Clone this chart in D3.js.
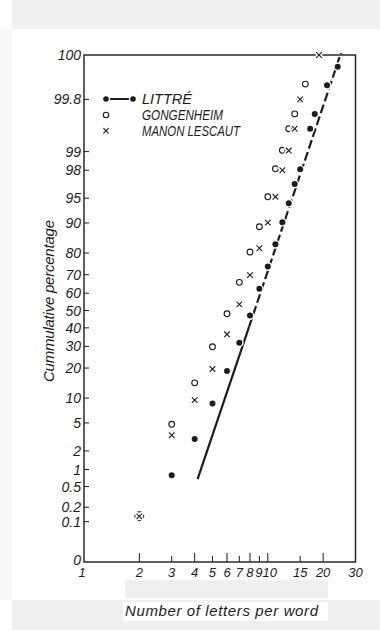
<!DOCTYPE html>
<html><head><meta charset="utf-8">
<script src="https://cdn.jsdelivr.net/npm/d3@7"></script>
<style>body{margin:0;background:#fff}svg{display:block}</style>
</head><body><svg id="c" width="380" height="630"></svg>
<script>
// ---- data (number of letters per word -> cumulative percentage) ----
const littreN = [2,3,4,5,6,7,8,9,10,11,12,13,14,15,17,18,21,24];
const littreP = [0.13,0.8,3.0,8.7,18.8,31.9,47.1,62.5,74.1,83.4,90.2,94.2,96.8,98.06,99.61,99.80,99.951,99.982];
const gongenN = [2,3,4,5,6,7,8,9,10,11,12,13,14,15,16];
const gongenP = [0.13,4.8,14.5,29.8,48.1,66.0,80.4,89.0,95.2,98.1,99.05,99.61,99.80,99.90,99.954];
const manonN  = [2,3,4,5,6,7,8,9,10,11,12,13,14,15,19];
const manonP  = [0.13,3.4,9.5,19.6,36.4,53.6,69.8,81.9,90.1,95.2,98.0,99.04,99.61,99.90,100];
const fitN = [4.15, 25];      // fitted Littré line
const fitP = [0.68, 100];
const xTicks = [1,2,3,4,5,6,7,8,9,10,15,20,30];
const xMajor = [2,4,6,8,10,20];
const yTicks = [0,0.1,0.2,0.5,1,2,5,10,20,30,40,50,60,70,80,90,95,98,99,99.9,100];
const yTickLabels = ["0","0.1","0.2","0.5","1","2","5","10","20","30","40","50","60","70","80","90","95","98","99","99.8","100"];
const seriesNames = ["LITTRÉ","GONGENHEIM","MANON LESCAUT"];

// inverse normal CDF (Acklam)
function probit(p){
  const a=[-3.969683028665376e+01,2.209460984245205e+02,-2.759285104469687e+02,1.383577518672690e+02,-3.066479806614716e+01,2.506628277459239e+00];
  const b=[-5.447609879822406e+01,1.615858368580409e+02,-1.556989798598866e+02,6.680131188771972e+01,-1.328068155288572e+01];
  const c=[-7.784894002430293e-03,-3.223964580411365e-01,-2.400758277161838e+00,-2.549671348404669e+00,4.374664141464968e+00,2.938163982698783e+00];
  const d=[7.784695709041462e-03,3.224671290700398e-01,2.445134137142996e+00,3.754408661907416e+00];
  const pl=0.02425, ph=1-pl; let q,r;
  if(p<pl){q=Math.sqrt(-2*Math.log(p));return (((((c[0]*q+c[1])*q+c[2])*q+c[3])*q+c[4])*q+c[5])/((((d[0]*q+d[1])*q+d[2])*q+d[3])*q+1);}
  if(p<=ph){q=p-0.5;r=q*q;return (((((a[0]*r+a[1])*r+a[2])*r+a[3])*r+a[4])*r+a[5])*q/(((((b[0]*r+b[1])*r+b[2])*r+b[3])*r+b[4])*r+1);}
  q=Math.sqrt(-2*Math.log(1-p));return -(((((c[0]*q+c[1])*q+c[2])*q+c[3])*q+c[4])*q+c[5])/((((d[0]*q+d[1])*q+d[2])*q+d[3])*q+1);
}

const svg = d3.select("#c");
const ink = "#1c1c1c";
const FONT = "'Liberation Sans Narrow','Liberation Sans',Arial,sans-serif";

// page background patches (scan)
svg.append("rect").attr("x",12).attr("y",0).attr("width",368).attr("height",29).attr("fill","#f0f0f0");
svg.append("rect").attr("x",0).attr("y",29).attr("width",12).attr("height",571).attr("fill","#f8f8f8");
svg.append("rect").attr("x",125).attr("y",580).attr("width",203).attr("height",18).attr("fill","#efefef");
svg.append("rect").attr("x",12).attr("y",600).attr("width",368).attr("height",30).attr("fill","#efefef");
svg.append("rect").attr("x",123).attr("y",602).attr("width",205).attr("height",19).attr("fill","#ffffff");

const L=84, R=355.5, T=55, B=562;
const x = d3.scaleLog().domain([1,30]).range([L,R]);
const yz = d3.scaleLinear().domain([-3.68,3.74]).range([B,T]).clamp(true);
const y = p => p<=0 ? B : p>=100 ? T : yz(probit(p/100));

// frame
svg.append("rect").attr("x",L).attr("y",T).attr("width",R-L).attr("height",B-T)
  .attr("fill","none").attr("stroke",ink).attr("stroke-width",1.4);

// y ticks & labels
const yg = svg.append("g");
yTicks.forEach((v,i)=>{
  if(v>0 && v<100) yg.append("line").attr("x1",L).attr("x2",L+5).attr("y1",y(v)).attr("y2",y(v)).attr("stroke",ink).attr("stroke-width",1);
  yg.append("text").attr("x",L-3).attr("y",y(v)+(v===0?3:5)).attr("text-anchor","end")
    .attr("font-family",FONT).attr("font-style","italic").attr("font-size",14).attr("fill",ink)
    .text(yTickLabels[i]);
});
// x ticks & labels
const xg = svg.append("g");
xTicks.forEach(v=>{
  if(v>1 && v<30) xg.append("line").attr("x1",x(v)).attr("x2",x(v)).attr("y1",B).attr("y2",B-(xMajor.includes(v)?9:6)).attr("stroke",ink).attr("stroke-width",1);
  xg.append("text").attr("x",x(v)+(v===1?-2:v===10?2:v===9?-0.5:0)).attr("y",577).attr("text-anchor","middle")
    .attr("font-family",FONT).attr("font-style","italic").attr("font-size",13).attr("fill",ink)
    .text(v);
});

// axis titles
svg.append("text").attr("transform","translate(54,301) rotate(-90)").attr("text-anchor","middle")
  .attr("font-family",FONT).attr("font-style","italic").attr("font-size",15).attr("fill",ink)
  .attr("textLength",162).attr("lengthAdjust","spacing").text("Cummulative percentage");
svg.append("text").attr("x",221.5).attr("y",616).attr("text-anchor","middle")
  .attr("font-family",FONT).attr("font-style","italic").attr("font-size",15).attr("fill",ink)
  .attr("textLength",193).attr("lengthAdjust","spacing").text("Number of letters per word");

// fitted Littré line: solid lower part, dashed upper part
const p0=[x(fitN[0]),y(fitP[0])], p1=[x(fitN[1]),y(fitP[1])];
const mid = d3.interpolate(p0,p1)(0.36);
svg.append("line").attr("x1",p0[0]).attr("y1",p0[1]).attr("x2",mid[0]).attr("y2",mid[1]).attr("stroke",ink).attr("stroke-width",2.2);
svg.append("line").attr("x1",mid[0]).attr("y1",mid[1]).attr("x2",p1[0]).attr("y2",p1[1]-2).attr("stroke",ink).attr("stroke-width",2.2).attr("stroke-dasharray","9,3.5");

// Littré dots (white halo, then dot)
const lData = littreN.map((n,i)=>[n,littreP[i]]);
const dg = svg.append("g");
dg.selectAll("circle.h").data(lData).join("circle").attr("class","h")
  .attr("cx",d=>x(d[0])).attr("cy",d=>y(d[1])).attr("r",4.4).attr("fill","#fff");
dg.selectAll("circle.d").data(lData).join("circle").attr("class","d")
  .attr("cx",d=>x(d[0])).attr("cy",d=>y(d[1])).attr("r",3).attr("fill",ink);
// Gongenheim circles
svg.append("g").selectAll("circle").data(gongenN.map((n,i)=>[n,gongenP[i]])).join("circle")
  .attr("cx",d=>x(d[0])).attr("cy",d=>y(d[1])).attr("r",d=>d[0]===2?4.4:2.9).attr("fill","none").attr("stroke",ink).attr("stroke-width",1.1);
// Manon Lescaut crosses
const crossPath = (cx,cy,s)=>`M${cx-s},${cy-s}L${cx+s},${cy+s}M${cx-s},${cy+s}L${cx+s},${cy-s}`;
const mg = svg.append("g");
manonN.forEach((n,i)=>{
  const cx=x(n), cy=y(manonP[i]);
  mg.append("path").attr("d",crossPath(cx,cy,2.8)).attr("stroke","#fff").attr("stroke-width",4).attr("stroke-linecap","round");
});
manonN.forEach((n,i)=>{
  const cx=x(n), cy=y(manonP[i]);
  mg.append("path").attr("d",crossPath(cx,cy,2.8)).attr("stroke",ink).attr("stroke-width",1.1);
});

// legend
const lg = svg.append("g");
const rows=[99,115,130.7], lx=106, tx=142, tl=[50,81,98];
lg.append("line").attr("x1",lx).attr("x2",133).attr("y1",rows[0]).attr("y2",rows[0]).attr("stroke",ink).attr("stroke-width",2);
[lx,133].forEach(cx=>{
  lg.append("circle").attr("cx",cx).attr("cy",rows[0]).attr("r",4.2).attr("fill","#fff");
  lg.append("circle").attr("cx",cx).attr("cy",rows[0]).attr("r",2.8).attr("fill",ink);
});
lg.append("circle").attr("cx",lx).attr("cy",rows[1]).attr("r",2.7).attr("fill","none").attr("stroke",ink).attr("stroke-width",1.1);
lg.append("path").attr("d",crossPath(lx,rows[2],2.6)).attr("stroke",ink).attr("stroke-width",1.1);
seriesNames.forEach((s,i)=>{
  lg.append("text").attr("x",tx).attr("y",rows[i]+5).attr("font-family",FONT).attr("font-style","italic")
    .attr("font-size",14).attr("fill",ink).attr("textLength",tl[i]).attr("lengthAdjust","spacingAndGlyphs").text(s);
});
</script></body></html>
